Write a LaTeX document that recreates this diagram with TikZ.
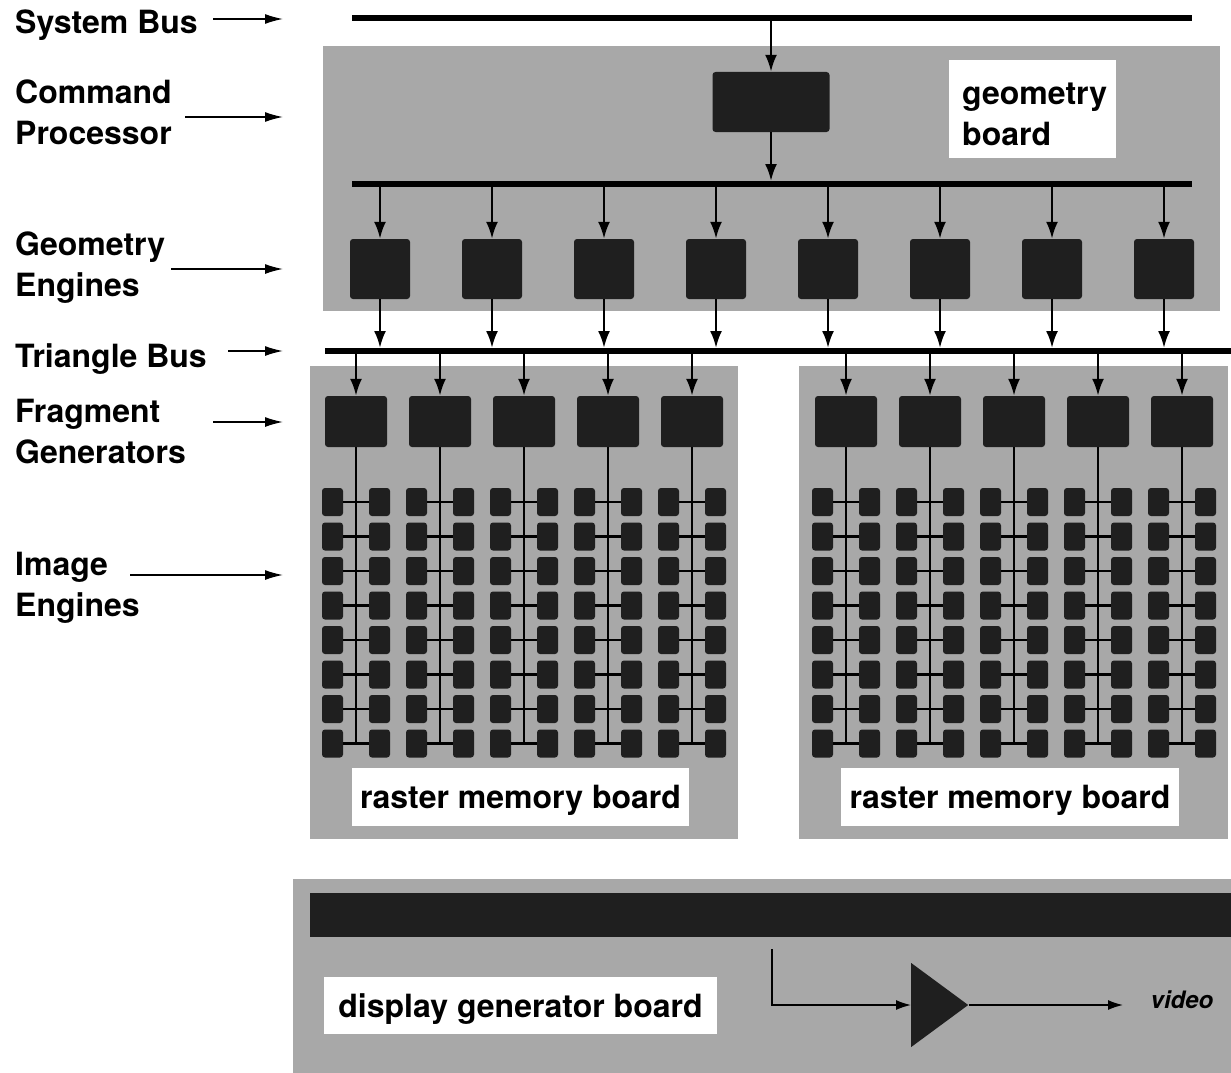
\documentclass[tikz,border=0pt]{standalone}
\usepackage{fontspec}
\setmainfont{TeX Gyre Heros}
\usepackage{tikz}
\usetikzlibrary{shapes.geometric, arrows.meta, positioning}
\definecolor{boardgray}{RGB}{168,168,168}
\definecolor{chipblack}{RGB}{31,31,31}
\newcommand{\bigbold}{\fontsize{32}{41}\selectfont\bfseries}
\tikzstyle{board} = [rectangle, anchor=north west, inner sep=0pt, fill=boardgray]
\tikzstyle{tag} = [rectangle, inner sep=0pt, fill=white, text centered, text depth=-3pt, font=\bigbold]
\tikzstyle{sidetag} = [anchor=west, align=left, inner sep=0pt, font=\bigbold]
\tikzstyle{chip} = [rectangle, rounded corners=3pt, inner sep=0pt, fill=chipblack]
\tikzstyle{cell} = [chip, minimum width=21pt, minimum height=28pt]
\tikzstyle{amp} = [isosceles triangle, isosceles triangle stretches, inner sep=0pt, fill=chipblack, minimum width=84pt, minimum height=57pt]
\tikzstyle{bus} = [line width=6.5pt]
\tikzstyle{wire} = [line width=2.5pt]
\tikzstyle{arrow} = [line width=2.5pt, -{Latex[length=17pt, width=12pt]}]
\tikzstyle{pointer} = [line width=1.5pt, -{Latex[length=18pt, width=10pt]}]
\tikzstyle{thinarrow} = [line width=1.5pt, -{Latex[length=15pt, width=10pt]}]

\begin{document}
\begin{tikzpicture}[x=1pt, y=-1pt]
\useasboundingbox (0,0) rectangle (1231,1073);

% boards
\node (geoboard) [board, minimum width=897pt, minimum height=265pt] at (323,46) {};
\node (rasterA) [board, minimum width=428pt, minimum height=473pt] at (310,366) {};
\node (rasterB) [board, minimum width=429pt, minimum height=473pt] at (799,366) {};
\node (dispboard) [board, minimum width=938pt, minimum height=194pt] at (293,879) {};

\node (geotag) [tag, minimum width=167pt, minimum height=98pt] at (1032.5,109) {};
\node (geotext) [sidetag] at (962,114) {geometry\\board};
\node (rastertagA) [tag, minimum width=337pt, minimum height=58pt] at (520.5,797) {raster memory board};
\node (rastertagB) [tag, minimum width=338pt, minimum height=58pt] at (1010,797) {raster memory board};
\node (disptag) [tag, minimum width=393pt, minimum height=57pt] at (520.5,1005.5) {display generator board};

% buses
\coordinate (sysL) at (352,18);
\coordinate (sysR) at (1192,18);
\coordinate (geoL) at (352,184);
\coordinate (geoR) at (1192,184);
\coordinate (triL) at (325,351);
\coordinate (triR) at (1231,351);
\draw [bus] (sysL) -- (sysR);
\draw [bus] (geoL) -- (geoR);
\draw [bus] (triL) -- (triR);

% command processor
\node (cmdproc) [chip, minimum width=117pt, minimum height=60pt] at (771,102) {};
\draw [arrow, shorten <=3pt] (cmdproc |- sysL) -- (cmdproc);
\draw [arrow, shorten >=3pt] (cmdproc) -- (cmdproc |- geoL);

% geometry engines
\foreach \i in {1,...,8} {
  \node (ge\i) [chip, minimum size=60pt] at (268+112*\i,269) {};
  \draw [arrow, shorten <=3pt] (ge\i |- geoL) -- (ge\i);
  \draw [arrow, shorten >=3pt] (ge\i) -- (ge\i |- triL);
}

% fragment generators and image engines
\foreach \b/\xo in {A/272, B/762} {
  \foreach \i in {1,...,5} {
    \node (fg\b\i) [chip, minimum width=62pt, minimum height=51pt] at (\xo+84*\i,421.5) {};
    \draw [arrow, shorten <=3pt] (fg\b\i |- triL) -- (fg\b\i);
    \foreach \r in {1,...,8} {
      \node (ie\b\i l\r) [cell] at (\xo+84*\i-23.5,467.5+34.5*\r) {};
      \node (ie\b\i r\r) [cell] at (\xo+84*\i+23.5,467.5+34.5*\r) {};
      \draw [wire] (ie\b\i l\r) -- (ie\b\i r\r);
    }
    \draw [wire] (fg\b\i) -- (fg\b\i |- ie\b\i l8);
  }
}

% display generator
\node (dispbar) [board, fill=chipblack, minimum width=921pt, minimum height=44pt] at (310,893) {};
\coordinate (tap) at (772,949);
\node (amp) [amp, anchor=lower side] at (911,1005) {};
\coordinate (videoout) at (1123,1005);
\node (videotag) [font=\fontsize{24}{28}\selectfont\bfseries\itshape] at (1182,1000) {video};
\draw [thinarrow] (tap) |- (amp.lower side);
\draw [thinarrow] (amp.apex) -- (videoout);

% side labels
\node (lblsys) [sidetag] at (15,25) {System Bus};
\node (lblcmd) [sidetag] at (15,112) {Command\\Processor};
\node (lblgeo) [sidetag] at (15,268) {Geometry\\Engines};
\node (lbltri) [sidetag] at (15,359) {Triangle Bus};
\node (lblfrag) [sidetag] at (15,432) {Fragment\\Generators};
\node (lblimg) [sidetag] at (15,588) {Image\\Engines};
\coordinate (sysfrom) at (213,19);
\coordinate (systo) at (283,19);
\coordinate (cmdfrom) at (185,117);
\coordinate (cmdto) at (283,117);
\coordinate (geofrom) at (171,269);
\coordinate (geoto) at (283,269);
\coordinate (trifrom) at (228,351);
\coordinate (trito) at (283,351);
\coordinate (fragfrom) at (213,422);
\coordinate (fragto) at (283,422);
\coordinate (imgfrom) at (130,575);
\coordinate (imgto) at (283,575);
\draw [pointer] (sysfrom) -- (systo);
\draw [pointer] (cmdfrom) -- (cmdto);
\draw [pointer] (geofrom) -- (geoto);
\draw [pointer] (trifrom) -- (trito);
\draw [pointer] (fragfrom) -- (fragto);
\draw [pointer] (imgfrom) -- (imgto);
\end{tikzpicture}
\end{document}
